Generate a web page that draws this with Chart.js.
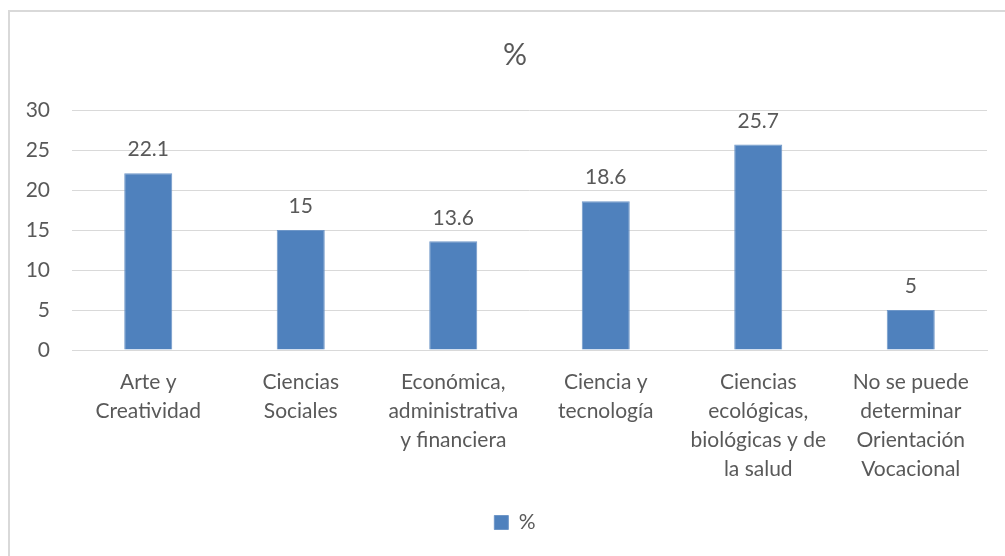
<!DOCTYPE html>
<html>
<head>
<meta charset="utf-8">
<script src="https://cdn.jsdelivr.net/npm/chart.js@4"></script>
<style>
  body { margin: 0; background: #fff; overflow: hidden; }
  #wrap { position: absolute; left: 8px; top: 10px; width: 1010px; height: 546px;
          border-left: 2px solid #d9d9d9; border-top: 2px solid #d9d9d9; }
</style>
</head>
<body>
<div id="wrap"><canvas id="bar"></canvas></div>
<script>
var categorias = [
  ['Arte y', 'Creatividad'],
  ['Ciencias', 'Sociales'],
  ['Económica,', 'administrativa', 'y financiera'],
  ['Ciencia y', 'tecnología'],
  ['Ciencias', 'ecológicas,', 'biológicas y de', 'la salud'],
  ['No se puede', 'determinar', 'Orientación', 'Vocacional']
];
var porcentajes = [22.1, 15, 13.6, 18.6, 25.7, 5];
var ticksY = [0, 5, 10, 15, 20, 25, 30];

var gris = '#595959';
Chart.defaults.font.family = 'Lato, "Noto Sans", sans-serif';
Chart.defaults.color = gris;

// etiquetas encima de cada barra
var etiquetas = {
  id: 'etiquetas',
  afterDatasetsDraw: function (chart) {
    var ctx = chart.ctx;
    var meta = chart.getDatasetMeta(0);
    ctx.save();
    ctx.font = '21px Lato, "Noto Sans", sans-serif';
    ctx.fillStyle = gris;
    ctx.textAlign = 'center';
    ctx.textBaseline = 'bottom';
    meta.data.forEach(function (bar, i) {
      ctx.fillText(String(porcentajes[i]), bar.x, bar.y - 13);
    });
    ctx.restore();
  }
};

var grafico = new Chart(document.getElementById('bar').getContext('2d'), {
  type: 'bar',
  data: {
    labels: categorias,
    datasets: [{
      label: '%',
      data: porcentajes,
      backgroundColor: '#4f81bd',
      borderColor: '#6f97c8',
      borderWidth: 1,
      categoryPercentage: 1,
      barPercentage: 0.315
    }]
  },
  options: {
    responsive: true,
    maintainAspectRatio: false,
    animation: false,
    layout: { padding: { top: 25, right: 0, bottom: 15, left: 0 } },
    plugins: {
      title: {
        display: true,
        text: '%',
        font: { size: 30, weight: 'normal' },
        color: gris,
        padding: { top: 0, bottom: 37 }
      },
      legend: {
        display: true,
        position: 'bottom',
        labels: { boxWidth: 14, boxHeight: 14, font: { size: 21 }, padding: 10 }
      },
      tooltip: { enabled: false }
    },
    scales: {
      x: {
        grid: { display: false, drawTicks: false },
        border: { color: '#d9d9d9', width: 1 },
        ticks: { maxRotation: 0, autoSkip: false, font: { size: 21, lineHeight: 1.38 }, padding: 18 }
      },
      y: {
        min: 0, max: 30,
        afterBuildTicks: function (s) { s.ticks = ticksY.map(function (v) { return { value: v }; }); },
        afterFit: function (s) { s.width = 62; },
        grid: { color: '#d9d9d9', drawTicks: false },
        border: { display: false },
        ticks: { font: { size: 21 }, padding: 22 }
      },
      // espacio vacío a la derecha del área de trazado
      derecha: {
        position: 'right',
        min: 0, max: 30,
        afterFit: function (s) { s.width = 33; },
        grid: { display: false, drawTicks: false },
        border: { display: false },
        ticks: { display: false }
      }
    }
  },
  plugins: [etiquetas]
});
</script>
</body>
</html>
